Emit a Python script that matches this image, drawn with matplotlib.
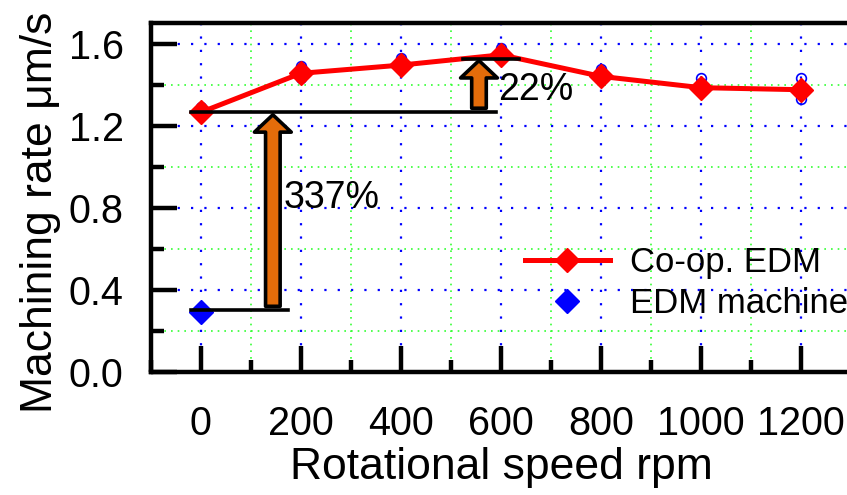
import matplotlib
matplotlib.use("Agg")
import matplotlib.pyplot as plt
from matplotlib.lines import Line2D
from matplotlib.ticker import MultipleLocator, FormatStrFormatter

plt.rcParams['font.family'] = ['Liberation Sans', 'DejaVu Sans']

# Rotational speed (rpm)
speed = [0, 200, 400, 600, 800, 1000, 1200]
# Mean machining rate of the cooperative EDM (um/s)
coop_rate = [1.265, 1.455, 1.495, 1.545, 1.44, 1.385, 1.375]
# Individual repeated measurements of the cooperative EDM
trial_a = [1.29, 1.49, 1.53, 1.58, 1.475, 1.43, 1.43]
trial_b = [1.25, 1.43, 1.48, 1.53, 1.425, 1.41, 1.33]
# Conventional EDM machine (stationary)
edm_speed = [0]
edm_rate = [0.29]

gain_static = "337%"
gain_rotation = "22%"

ORANGE = '#E46C0A'

fig = plt.figure(figsize=(8.47, 4.95), dpi=100)
ax = fig.add_axes([0.178, 0.2485, 0.827, 0.705])

ax.set_xlim(-100, 1300)
ax.set_ylim(0, 1.7)
ax.xaxis.set_major_locator(MultipleLocator(200))
ax.xaxis.set_minor_locator(MultipleLocator(100))
ax.yaxis.set_major_locator(MultipleLocator(0.4))
ax.yaxis.set_minor_locator(MultipleLocator(0.2))
ax.yaxis.set_major_formatter(FormatStrFormatter('%.1f'))

ax.grid(which='major', color='#0000FF', linestyle=(0, (1, 5)), linewidth=1.6)
ax.grid(which='minor', color='#33FF33', linestyle=(0, (1, 3)), linewidth=1.2)
ax.set_axisbelow(True)

for side in ['left', 'bottom', 'top']:
    ax.spines[side].set_linewidth(3.2)
ax.spines['right'].set_visible(False)

ax.tick_params(axis='both', which='major', direction='in', length=18.5,
               width=3.2, labelsize=28.5)
ax.tick_params(axis='both', which='minor', direction='in', length=9, width=3.2)
ax.tick_params(axis='y', which='major', pad=19.5)
ax.tick_params(axis='x', which='major', pad=24)
ax.tick_params(top=False, right=False, which='both')

ax.set_xlabel('Rotational speed rpm', fontsize=32)
ax.set_ylabel('Machining rate \u03bcm/s', fontsize=32)
ax.xaxis.set_label_coords(0.5, -0.215)
ax.yaxis.set_label_coords(-0.128, 0.458)

# repeated measurements
ax.plot(speed, trial_a, linestyle='none', marker='o', markersize=7,
        mfc='none', mec='#0000FF', mew=1.2, zorder=3)
ax.plot(speed, trial_b, linestyle='none', marker='o', markersize=7,
        mfc='none', mec='#0000FF', mew=1.2, zorder=3)

ax.plot(speed, coop_rate, color='#FF0000', linewidth=3.6, marker='D',
        markersize=12.5, mfc='#FF0000', mec='#FF0000', zorder=4)
ax.plot(edm_speed, edm_rate, linestyle='none', marker='D', markersize=12.5,
        mfc='#0000FF', mec='#0000FF', zorder=4)

# reference levels
ax.plot([-20, 590], [coop_rate[0], coop_rate[0]], color='black', lw=2.6, zorder=5)
ax.plot([-20, 175], [edm_rate[0] + 0.01, edm_rate[0] + 0.01], color='black',
        lw=2.6, zorder=5)
ax.plot([525, 635], [coop_rate[3] - 0.02, coop_rate[3] - 0.02], color='black',
        lw=2.6, zorder=5)

arrow_style = 'simple,head_length=1.25,head_width=2.65,tail_width=1.05'
ax.annotate('', xy=(144, coop_rate[0] - 0.012), xytext=(144, edm_rate[0] + 0.03),
            arrowprops=dict(arrowstyle=arrow_style, fc=ORANGE, ec='black',
                            lw=2.6, shrinkA=0, shrinkB=0, mutation_scale=10),
            zorder=6)
ax.annotate('', xy=(556, coop_rate[3] - 0.028), xytext=(556, coop_rate[0] + 0.02),
            arrowprops=dict(arrowstyle=arrow_style, fc=ORANGE, ec='black',
                            lw=2.6, shrinkA=0, shrinkB=0, mutation_scale=10),
            zorder=6)

ax.text(166, 0.85, gain_static, fontsize=27, va='center', ha='left', zorder=7)
ax.text(594, 1.375, gain_rotation, fontsize=27, va='center', ha='left', zorder=7)

handles = [
    Line2D([], [], color='#FF0000', linewidth=3.6, marker='D', markersize=12.5),
    Line2D([], [], color='#0000FF', linestyle='none', marker='D', markersize=12.5),
]
ax.legend(handles, ['Co-op. EDM', 'EDM machine'], loc='upper left',
          bbox_to_anchor=(0.534, 0.362), frameon=False, fontsize=25,
          handlelength=2.45, handletextpad=0.58, labelspacing=0.24,
          borderaxespad=0, borderpad=0)

fig.savefig('out.png', dpi=100)
